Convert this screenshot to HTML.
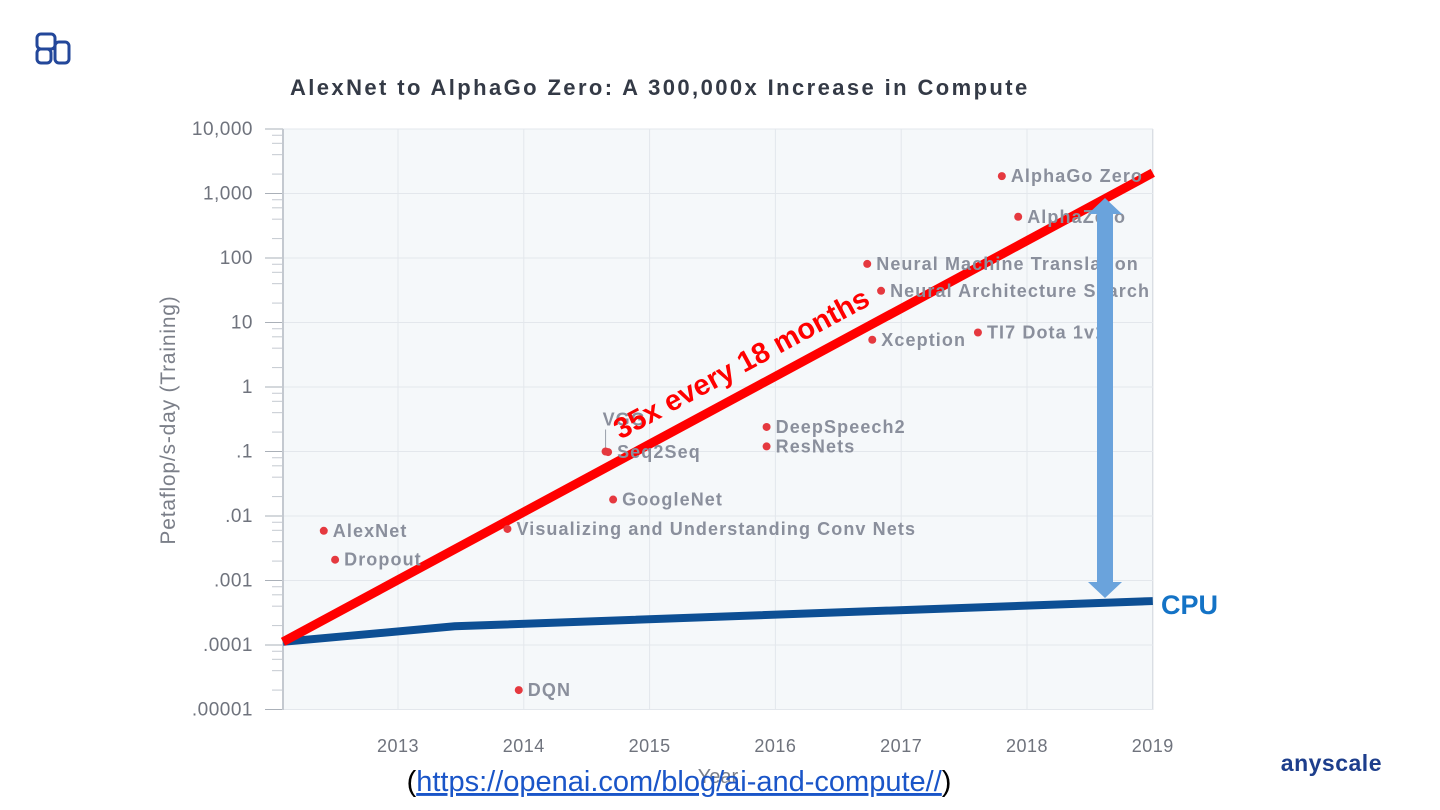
<!DOCTYPE html>
<html><head><meta charset="utf-8"><style>
body{margin:0;background:#fff;width:1440px;height:810px;overflow:hidden;font-family:"Liberation Sans",sans-serif}
svg{position:absolute;left:0;top:0}
</style></head><body>
<svg id="c" width="1440" height="810">
  <g fill="none" stroke="#23479a" stroke-width="3">
    <rect x="37" y="34" width="18" height="15" rx="4"/>
    <rect x="37" y="49" width="14" height="14" rx="4"/>
    <rect x="55" y="42" width="14" height="21" rx="4"/>
  </g>
  <text x="290" y="95" font-size="22" font-weight="bold" fill="#343a46" letter-spacing="2.4">AlexNet to AlphaGo Zero: A 300,000x Increase in Compute</text>
  <rect x="283" y="129" width="870" height="581" fill="#f5f8fa"/>
  <g id="grid"></g><g id="axes"></g><g id="lines"></g><g id="points"></g>
  <text transform="translate(175,420) rotate(-90)" text-anchor="middle" font-size="21" fill="#7b7f89" letter-spacing="0.8">Petaflop/s-day (Training)</text>
  <text x="718" y="783" text-anchor="middle" font-size="20" fill="#7b7f89">Year</text>
  <text x="679" y="791" text-anchor="middle" font-size="29" fill="#000">(<tspan fill="#1a55c8" text-decoration="underline">https://openai.com/blog/ai-and-compute//</tspan>)</text>
  <text x="1382" y="771" text-anchor="end" font-size="23" font-weight="bold" fill="#1d3e8c" letter-spacing="0.5">anyscale</text>
</svg>
<script>
const yearTicks=[2013,2014,2015,2016,2017,2018,2019];
const yTickVals=[4,3,2,1,0,-1,-2,-3,-4,-5];
const yTickLabels=["10,000","1,000","100","10","1",".1",".01",".001",".0001",".00001"];
const pointNames=["AlexNet","Dropout","Visualizing and Understanding Conv Nets","DQN","VGG","Seq2Seq","GoogleNet","DeepSpeech2","ResNets","Neural Machine Translation","Neural Architecture Search","Xception","TI7 Dota 1v1","AlphaGo Zero","AlphaZero"];
const pointYears=[2012.41,2012.50,2013.87,2013.96,2014.65,2014.67,2014.71,2015.93,2015.93,2016.73,2016.84,2016.77,2017.61,2017.80,2017.93];
const pointValues=[0.0059,0.0021,0.0063,0.00002,0.1,0.098,0.018,0.24,0.12,81,31,5.4,7,1860,436];
const trendYears=[2012.086,2019.0];
const trendValues=[0.000112,2090];
const cpuYears=[2012.086,2013.45,2019.0];
const cpuValues=[0.000112,0.000195,0.00048];
const NS="http://www.w3.org/2000/svg";
const X=y=>398+(y-2013)*125.8;
const Y=v=>129+(4-Math.log10(v))*64.5;
const YL=l=>129+(4-l)*64.5;
function mk(t,a,p){const e=document.createElementNS(NS,t);for(const k in a)e.setAttribute(k,a[k]);(p||document.getElementById('c')).appendChild(e);return e;}
const grid=document.getElementById('grid'),axes=document.getElementById('axes'),lines=document.getElementById('lines'),pts=document.getElementById('points');
yearTicks.forEach(y=>{
  const g=mk('line',{x1:X(y),x2:X(y),y1:129,y2:710,stroke:y===2019?'#cfd3da':'#e3e7ec','stroke-width':1},grid);
  
  
  const t=mk('text',{x:X(y),y:752,'text-anchor':'middle','font-size':18,fill:'#6f737d','letter-spacing':0.5},axes);
  t.textContent=y;
  
  
});
yTickVals.forEach((l,i)=>{
  const g=mk('line',{x1:283,x2:1153,y1:YL(l),y2:YL(l),stroke:'#e3e7ec','stroke-width':1},grid);
  
  
  const tk=mk('line',{x1:265,x2:283,y1:YL(l),y2:YL(l),stroke:'#aab0b8','stroke-width':1},axes);
  
  
  if(l>-5){for(let m=2;m<10;m+=2){const mt=mk('line',{x1:272,x2:283,y1:YL(l-1+Math.log10(m)),y2:YL(l-1+Math.log10(m)),stroke:'#c4c9d0','stroke-width':1},axes);
    
    }}
  const t=mk('text',{x:253,y:YL(l)+6,'text-anchor':'end','font-size':19,fill:'#6f737d','letter-spacing':0.5},axes);
  t.textContent=yTickLabels[i];
  
  
});
const ax=mk('line',{x1:283,x2:283,y1:129,y2:710,stroke:'#c4c9d0','stroke-width':2},axes);


pointNames.forEach((n,i)=>{
  const cx=X(pointYears[i]),cy=Y(pointValues[i]);
  const d=mk('circle',{cx:cx,cy:cy,r:4,fill:'#e5393f'},pts);
  
  
  let tx=cx+9,ty=cy+6;
  if(n==="VGG"){tx=cx-3;ty=cy-26;const ll=mk('line',{x1:cx,x2:cx,y1:cy-4,y2:cy-22,stroke:'#9aa0aa'},pts);
    
    }
  const t=mk('text',{x:tx,y:ty,'font-size':18,'font-weight':'bold',fill:'#8a8f9c','letter-spacing':1.1},pts);
  t.textContent=n;
  
  
});
const cp=mk('polyline',{points:cpuYears.map((y,i)=>X(y)+','+Y(cpuValues[i])).join(' '),fill:'none',stroke:'#0d4f94','stroke-width':8},lines);


const ct=mk('text',{x:1161,y:614,'font-size':27,'font-weight':'bold',fill:'#1473c6'},lines);
ct.textContent='CPU';


const ar=mk('g',{fill:'#6aa3dc'});


mk('rect',{x:1097,y:212,width:16,height:372},ar);
mk('polygon',{points:'1088,214 1105,198 1122,214'},ar);
mk('polygon',{points:'1088,582 1105,598 1122,582'},ar);
const x1=X(trendYears[0]),y1=Y(trendValues[0]),x2=X(trendYears[1]),y2=Y(trendValues[1]);
const tr=mk('line',{x1:x1,y1:y1,x2:x2,y2:y2,stroke:'#ff0000','stroke-width':9},lines);


const ang=Math.atan2(y2-y1,x2-x1)*180/Math.PI;
const tt=mk('text',{x:0,y:0,'font-size':29,'font-weight':'bold',fill:'#ff0000','text-anchor':'middle',transform:`translate(${746},${372}) rotate(${ang})`});
tt.textContent='35x every 18 months';


</script>
</body></html>
